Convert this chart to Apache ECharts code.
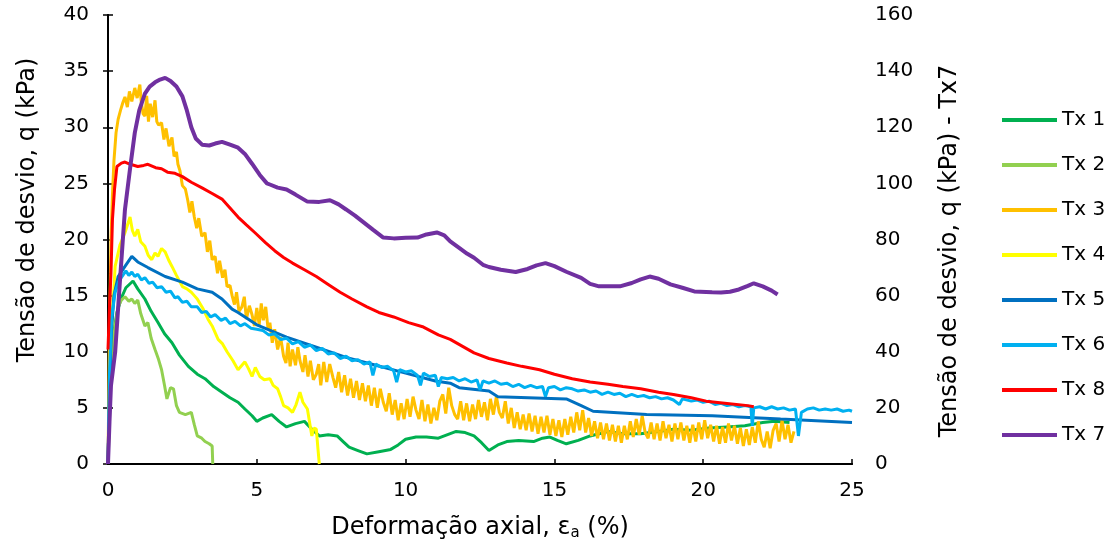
<!DOCTYPE html>
<html>
<head>
<meta charset="utf-8">
<script src="https://cdn.jsdelivr.net/npm/echarts@6/dist/echarts.min.js"></script>
<style>
html,body{margin:0;padding:0;background:#fff;}
#chart{width:1114px;height:546px;}
</style>
</head>
<body>
<div id="chart"></div>
<script>
// ---- Data (x = axial strain %, y = deviator stress kPa) ----
const xTicks = [0, 5, 10, 15, 20, 25];
const seriesNames = ['Tx 1', 'Tx 2', 'Tx 3', 'Tx 4', 'Tx 5', 'Tx 6', 'Tx 8', 'Tx 7'];

const tx1 = [[0,0],[0.05,6],[0.15,11],[0.3,13.5],[0.45,14.8],[0.6,15.7],[0.84,16.3],[1.0,15.6],[1.24,14.7],[1.45,13.6],[1.68,12.6],[1.9,11.6],[2.15,10.8],[2.4,9.7],[2.7,8.7],[3.0,8.0],[3.26,7.6],[3.55,6.9],[3.83,6.4],[4.1,5.9],[4.37,5.5],[4.6,4.9],[4.84,4.3],[5.0,3.8],[5.2,4.1],[5.5,4.4],[5.75,3.8],[6.0,3.3],[6.3,3.6],[6.6,3.8],[6.85,3.1],[7.1,2.5],[7.4,2.6],[7.7,2.5],[7.9,2.0],[8.1,1.5],[8.4,1.2],[8.7,0.9],[9.1,1.1],[9.5,1.3],[9.75,1.7],[10.0,2.2],[10.35,2.4],[10.7,2.4],[11.1,2.3],[11.5,2.7],[11.7,2.9],[12.0,2.8],[12.3,2.5],[12.55,1.9],[12.8,1.2],[13.1,1.7],[13.4,2.0],[13.8,2.1],[14.3,2.0],[14.6,2.3],[14.85,2.4],[15.1,2.1],[15.4,1.8],[15.8,2.1],[16.2,2.5],[16.5,2.7],[16.8,2.9],[17.3,2.7],[17.9,2.7],[18.5,2.9],[19.0,3.1],[19.6,3.0],[20.2,3.2],[20.8,3.3],[21.4,3.4],[22.0,3.7],[22.4,3.8],[22.9,3.7]];

const tx2 = [[0,0],[0.05,4],[0.1,8],[0.2,11.5],[0.3,13.3],[0.34,14],[0.45,14.6],[0.57,14.9],[0.7,14.5],[0.8,14.7],[0.9,14.3],[1.0,14.6],[1.1,13.4],[1.24,12.3],[1.34,12.6],[1.45,11.2],[1.58,10.2],[1.7,9.3],[1.8,8.4],[1.9,7.0],[1.98,5.8],[2.1,6.8],[2.2,6.7],[2.3,5.2],[2.4,4.6],[2.6,4.4],[2.8,4.6],[2.9,3.5],[3.0,2.5],[3.15,2.3],[3.26,2.0],[3.4,1.8],[3.5,1.6],[3.52,0]];

const tx3 = [[0,0],[0.05,12],[0.1,20],[0.15,24],[0.2,27],[0.27,29.5],[0.34,30.7],[0.42,31.5],[0.5,32.2],[0.57,32.7],[0.65,31.8],[0.72,33.2],[0.8,32.3],[0.9,33.5],[0.98,32.6],[1.07,33.8],[1.12,32.2],[1.18,31.2],[1.24,31.0],[1.3,32.8],[1.36,30.5],[1.42,32.1],[1.5,30.9],[1.58,32.4],[1.64,30.5],[1.7,30.2],[1.8,30.4],[1.88,28.9],[1.95,29.9],[2.05,28.3],[2.15,29.1],[2.22,27.4],[2.3,27.8],[2.35,26.7],[2.42,26.1],[2.5,24.8],[2.6,24.5],[2.68,23.5],[2.75,22.4],[2.82,23.4],[2.9,22.0],[2.98,21.0],[3.05,21.9],[3.15,20.3],[3.26,20.6],[3.34,18.9],[3.42,19.9],[3.5,18.2],[3.6,18.5],[3.68,17.0],[3.75,18.1],[3.85,16.6],[3.93,17.3],[4.0,15.8],[4.1,15.9],[4.17,15.0],[4.25,14.2],[4.32,15.3],[4.4,13.6],[4.5,14.0],[4.58,14.9],[4.65,12.9],[4.75,14.1],[4.84,13.3],[4.92,12.3],[5.0,13.9],[5.08,12.4],[5.15,14.3],[5.22,12.8],[5.3,14.0],[5.38,12.0],[5.44,12.6],[5.52,10.8],[5.6,12.0],[5.7,10.2],[5.8,11.3],[5.9,9.6],[5.98,9.0],[6.05,10.8],[6.12,8.7],[6.2,10.2],[6.3,8.8],[6.38,10.4],[6.45,9.2],[6.55,8.2],[6.62,9.7],[6.72,7.8],[6.8,9.2],[6.9,7.5],[7.0,8.0],[7.08,8.9],[7.15,7.0],[7.25,9.1],[7.35,7.3],[7.45,8.9],[7.56,7.7],[7.65,6.8],[7.75,8.2],[7.85,6.4],[7.95,7.9],[8.05,6.1],[8.15,7.6],[8.25,5.9],[8.35,7.4],[8.45,5.7],[8.55,7.2],[8.65,5.6],[8.75,7.0],[8.85,5.2],[8.95,6.8],[9.05,5.0],[9.15,6.7],[9.25,5.5],[9.35,4.7],[9.45,6.3],[9.55,4.4],[9.65,5.7],[9.75,3.9],[9.85,5.4],[9.95,4.0],[10.05,5.8],[10.15,4.2],[10.25,6.0],[10.35,4.8],[10.45,4.0],[10.55,5.7],[10.65,3.8],[10.75,5.3],[10.85,3.6],[10.95,5.0],[11.05,3.9],[11.15,5.6],[11.25,6.2],[11.35,4.5],[11.45,6.8],[11.55,5.2],[11.65,4.4],[11.75,4.0],[11.85,5.6],[11.95,3.9],[12.05,5.4],[12.15,3.8],[12.25,5.3],[12.35,4.0],[12.45,5.7],[12.55,4.2],[12.65,5.5],[12.75,3.9],[12.85,5.8],[12.95,4.4],[13.05,6.0],[13.15,4.6],[13.25,4.1],[13.35,5.6],[13.45,3.6],[13.55,5.0],[13.65,3.2],[13.75,4.6],[13.85,3.1],[13.95,4.4],[14.05,3.0],[14.15,4.5],[14.25,2.9],[14.35,4.3],[14.45,2.7],[14.55,4.2],[14.65,2.8],[14.75,4.3],[14.85,2.6],[14.95,4.0],[15.05,2.5],[15.15,3.9],[15.25,2.4],[15.35,4.0],[15.45,2.6],[15.55,4.2],[15.65,2.8],[15.75,4.6],[15.85,3.0],[15.95,4.8],[16.05,2.8],[16.15,4.1],[16.25,2.5],[16.35,3.8],[16.45,2.3],[16.55,3.7],[16.65,2.2],[16.75,3.6],[16.85,2.1],[16.95,3.5],[17.05,2.0],[17.15,3.4],[17.25,1.9],[17.35,3.4],[17.45,2.2],[17.55,3.8],[17.65,2.4],[17.75,4.0],[17.85,2.6],[17.95,4.3],[18.05,2.8],[18.15,2.3],[18.25,3.7],[18.35,2.2],[18.45,3.6],[18.55,2.1],[18.65,3.8],[18.75,2.3],[18.85,3.5],[18.95,2.0],[19.05,3.6],[19.15,2.2],[19.25,3.7],[19.35,2.1],[19.45,3.4],[19.55,1.9],[19.65,3.5],[19.75,2.0],[19.85,3.7],[19.95,2.2],[20.05,3.9],[20.15,2.3],[20.25,3.5],[20.35,2.0],[20.45,3.4],[20.55,1.8],[20.65,3.3],[20.75,1.9],[20.85,3.6],[20.95,2.1],[21.05,3.4],[21.15,1.8],[21.25,3.2],[21.35,1.6],[21.45,3.1],[21.55,1.7],[21.65,3.3],[21.75,1.9],[21.85,3.8],[21.95,2.2],[22.05,1.5],[22.15,2.9],[22.25,1.4],[22.35,3.0],[22.45,3.6],[22.55,2.0],[22.65,3.9],[22.75,2.2],[22.85,3.5],[22.95,1.9],[23.05,2.9]];

const tx4 = [[0,0],[0.05,5],[0.12,12],[0.24,17.6],[0.4,19.5],[0.57,20.6],[0.74,22],[0.82,20.8],[0.9,20.3],[1.0,20.9],[1.1,19.8],[1.24,19.4],[1.35,18.6],[1.47,18.2],[1.58,18.8],[1.68,18.5],[1.8,19.2],[1.92,18.9],[2.05,18.1],[2.15,17.6],[2.3,16.8],[2.5,15.8],[2.65,15.6],[2.8,15.3],[2.9,15.0],[3.0,14.7],[3.2,13.8],[3.36,12.9],[3.5,12.3],[3.7,11.1],[3.85,10.7],[4.0,10.0],[4.2,9.2],[4.37,8.4],[4.5,8.8],[4.6,9.1],[4.72,8.5],[4.84,7.8],[4.95,8.6],[5.1,7.8],[5.25,7.5],[5.44,7.6],[5.55,7.0],[5.7,6.7],[5.8,6.0],[5.9,5.2],[6.05,5.0],[6.2,4.6],[6.32,5.3],[6.45,6.4],[6.55,5.5],[6.7,4.9],[6.78,3.6],[6.85,2.5],[6.92,3.2],[7.0,3.1],[7.05,1.5],[7.1,0]];

const tx5 = [[0,0],[0.05,6],[0.12,12],[0.2,15],[0.34,16.7],[0.57,17.6],[0.8,18.5],[1.0,18.0],[1.34,17.5],[1.92,16.7],[2.5,16.2],[3.0,15.6],[3.5,15.3],[3.83,14.7],[4.17,13.8],[4.37,13.5],[5.0,12.4],[6.0,11.3],[7.0,10.4],[8.0,9.5],[9.0,8.8],[10.0,8.1],[11.0,7.4],[11.5,7.2],[11.8,6.8],[12.8,6.5],[13.1,6.0],[15.4,5.8],[15.9,5.2],[16.3,4.7],[18.1,4.4],[20.3,4.3],[22.6,4.0],[25,3.7]];

const tx6 = [[0,0],[0.05,8],[0.12,13],[0.24,15.3],[0.35,16.2],[0.47,16.7],[0.6,17.2],[0.7,16.8],[0.8,17.1],[0.9,16.7],[1.0,16.9],[1.12,16.4],[1.24,16.6],[1.38,16.1],[1.5,16.2],[1.65,15.7],[1.8,15.8],[1.95,15.3],[2.1,15.4],[2.25,14.8],[2.35,14.9],[2.5,14.4],[2.65,14.5],[2.8,14.0],[3.0,14.0],[3.15,13.5],[3.3,13.6],[3.45,13.1],[3.6,13.3],[3.8,12.8],[3.95,13.0],[4.1,12.5],[4.27,12.7],[4.45,12.3],[4.6,12.5],[4.8,12.1],[5.0,12.0],[5.2,11.9],[5.4,11.5],[5.6,11.6],[5.8,11.1],[6.0,11.2],[6.2,10.7],[6.4,10.9],[6.6,10.4],[6.8,10.6],[7.0,10.1],[7.2,10.3],[7.4,9.8],[7.6,9.9],[7.8,9.4],[8.0,9.6],[8.2,9.2],[8.4,9.3],[8.6,8.9],[8.8,9.1],[8.9,7.9],[9.0,8.9],[9.2,8.6],[9.4,8.7],[9.6,8.3],[9.7,7.3],[9.8,8.4],[10.0,8.2],[10.2,8.3],[10.4,7.9],[10.5,7.0],[10.6,8.1],[10.8,7.8],[11.0,7.9],[11.1,6.9],[11.2,7.7],[11.4,7.6],[11.6,7.7],[11.8,7.4],[12.0,7.6],[12.2,7.3],[12.4,7.5],[12.5,6.6],[12.6,7.4],[12.8,7.2],[13.0,7.4],[13.2,7.1],[13.4,7.2],[13.6,6.9],[13.8,7.1],[14.0,6.8],[14.2,7.0],[14.4,6.8],[14.6,6.9],[14.7,6.0],[14.8,6.8],[15.0,6.9],[15.2,6.6],[15.4,6.8],[15.6,6.7],[15.8,6.5],[16.0,6.6],[16.2,6.4],[16.4,6.5],[16.6,6.2],[16.8,6.4],[17.0,6.2],[17.2,6.3],[17.4,6.0],[17.6,6.2],[17.8,6.0],[18.0,6.1],[18.2,5.9],[18.4,6.0],[18.6,5.8],[18.8,5.9],[19.0,5.7],[19.2,5.3],[19.3,5.8],[19.6,5.6],[19.8,5.7],[20.0,5.5],[20.2,5.6],[20.4,5.3],[20.6,5.4],[20.8,5.2],[21.0,5.3],[21.2,5.1],[21.4,5.2],[21.6,5.1],[21.65,3.4],[21.7,5.0],[21.9,5.1],[22.1,4.9],[22.3,5.1],[22.5,4.9],[22.7,5.0],[22.9,4.8],[23.1,4.9],[23.2,2.5],[23.3,4.6],[23.5,4.9],[23.7,5.0],[23.9,4.8],[24.1,4.9],[24.3,4.8],[24.5,4.9],[24.7,4.7],[24.9,4.8],[25,4.7]];

const tx8 = [[0,10.2],[0.05,14],[0.1,17],[0.15,21.8],[0.22,24.5],[0.3,26.5],[0.45,26.8],[0.57,26.9],[0.75,26.7],[1.0,26.5],[1.2,26.6],[1.34,26.7],[1.6,26.4],[1.8,26.3],[2.0,26.0],[2.25,25.9],[2.5,25.6],[2.8,25.1],[3.16,24.6],[3.5,24.1],[3.83,23.6],[4.1,22.8],[4.37,22.0],[4.65,21.3],[4.94,20.6],[5.3,19.7],[5.6,19.0],[5.9,18.4],[6.2,17.9],[6.6,17.3],[7.0,16.7],[7.4,16.0],[7.8,15.3],[8.2,14.7],[8.7,14.0],[9.1,13.5],[9.6,13.1],[10.1,12.6],[10.6,12.2],[11.1,11.5],[11.5,11.1],[11.9,10.5],[12.3,9.9],[12.8,9.4],[13.4,9.0],[13.9,8.7],[14.5,8.4],[15.0,8.0],[15.6,7.6],[16.2,7.3],[16.8,7.1],[17.3,6.9],[17.9,6.7],[18.5,6.4],[19.0,6.2],[19.6,5.9],[20.1,5.6],[20.8,5.4],[21.5,5.2],[21.7,5.1]];

// Tx 7 on the secondary axis (0-160 kPa)
const tx7 = [[0,0],[0.05,15],[0.1,28],[0.24,39.8],[0.4,65],[0.57,90.7],[0.75,106],[0.9,118],[1.05,126],[1.24,132],[1.4,134.5],[1.58,136],[1.75,137],[1.92,137.6],[2.1,136.5],[2.3,134.5],[2.5,131],[2.65,126],[2.8,120],[2.95,116],[3.16,113.8],[3.4,113.5],[3.6,114.2],[3.83,114.8],[4.1,113.8],[4.37,112.7],[4.6,110.5],[4.84,107],[5.1,103],[5.34,100],[5.44,99.6],[5.7,98.5],[6.0,97.8],[6.3,96],[6.7,93.5],[7.1,93.4],[7.46,94],[7.75,92.5],[8.0,90.7],[8.3,88.5],[8.6,86],[8.9,83.5],[9.25,80.7],[9.6,80.4],[10.0,80.6],[10.4,80.7],[10.7,81.8],[11.05,82.5],[11.3,81.5],[11.5,79.3],[11.8,77],[12.06,75],[12.3,73.5],[12.6,71],[12.8,70.2],[13.2,69.2],[13.7,68.4],[14.1,69.5],[14.4,70.8],[14.7,71.6],[15.0,70.5],[15.4,68.5],[15.9,66.3],[16.2,64.2],[16.5,63.3],[17.2,63.3],[17.6,64.5],[17.9,65.8],[18.2,66.8],[18.5,66],[18.9,64],[19.3,62.8],[19.7,61.5],[20.3,61.2],[20.6,61.1],[20.9,61.4],[21.2,62.2],[21.5,63.5],[21.7,64.4],[22.0,63.3],[22.3,61.8],[22.5,60.4]];

const seriesData = [tx1, tx2, tx3, tx4, tx5, tx6, tx8, tx7];
const colors = ['#00B050', '#92D050', '#FFC000', '#FFFF00', '#0070C0', '#00B0F0', '#FF0000', '#7030A0'];

const FONT = 'DejaVu Sans';
const chart = echarts.init(document.getElementById('chart'), null, {renderer: 'canvas'});

const axisLine = {show: true, lineStyle: {color: '#000', width: 2}};
const axisTick = {show: true, inside: true, length: 5, lineStyle: {color: '#000', width: 1.5}};
const labelStyle = {color: '#000', fontFamily: FONT, fontSize: 20};

const option = {
  animation: false,
  backgroundColor: '#fff',
  grid: {left: 108, right: 262, top: 15, bottom: 81, containLabel: false},
  legend: {
    orient: 'vertical',
    left: 997,
    top: 105,
    itemWidth: 55,
    itemHeight: 4,
    itemGap: 25,
    icon: 'rect',
    textStyle: {color: '#000', fontFamily: FONT, fontSize: 20, lineHeight: 20},
    data: seriesNames
  },
  xAxis: [{
    type: 'value', min: 0, max: 25, interval: 5,
    axisLine: axisLine, axisTick: axisTick,
    axisLabel: Object.assign({margin: 17}, labelStyle),
    splitLine: {show: false},
    name: 'Deformação axial, {e|ε}{s|a} (%)',
    nameLocation: 'middle', nameGap: 50,
    nameTextStyle: {color: '#000', fontFamily: FONT, fontSize: 24,
      rich: {e: {fontFamily: FONT, fontSize: 24, color: '#000'},
             s: {fontFamily: FONT, fontSize: 15, color: '#000', verticalAlign: 'bottom', padding: [12, 0, 0, 0]}}}
  }, {
    type: 'value', min: 0, max: 25, position: 'top',
    axisLine: axisLine, axisTick: {show: false}, axisLabel: {show: false}, splitLine: {show: false}
  }],
  yAxis: [{
    type: 'value', min: 0, max: 40, interval: 5,
    axisLine: axisLine, axisTick: axisTick,
    axisLabel: Object.assign({margin: 19}, labelStyle),
    splitLine: {show: false}
  }, {
    type: 'value', min: 0, max: 160, interval: 20, position: 'right',
    axisLine: axisLine, axisTick: axisTick,
    axisLabel: Object.assign({margin: 23}, labelStyle),
    splitLine: {show: false}
  }],
  graphic: [{
    type: 'text',
    rotation: Math.PI / 2,
    x: 28, y: 210,
    style: {text: 'Tensão de desvio, q (kPa)', fill: '#000', font: '24px "DejaVu Sans"', align: 'center', verticalAlign: 'middle'}
  }, {
    type: 'text',
    rotation: Math.PI / 2,
    x: 950, y: 251,
    style: {text: 'Tensão de desvio, q (kPa) - Tx7', fill: '#000', font: '24px "DejaVu Sans"', align: 'center', verticalAlign: 'middle'}
  }],
  series: seriesNames.map((n, i) => ({
    name: n,
    type: 'line',
    data: seriesData[i],
    yAxisIndex: n === 'Tx 7' ? 1 : 0,
    showSymbol: false,
    symbol: 'none',
    smooth: false,
    color: colors[i],
    lineStyle: {color: colors[i], width: n === 'Tx 7' ? 4 : 3},
    z: 2 + i
  }))
};
chart.setOption(option);
</script>
</body>
</html>
